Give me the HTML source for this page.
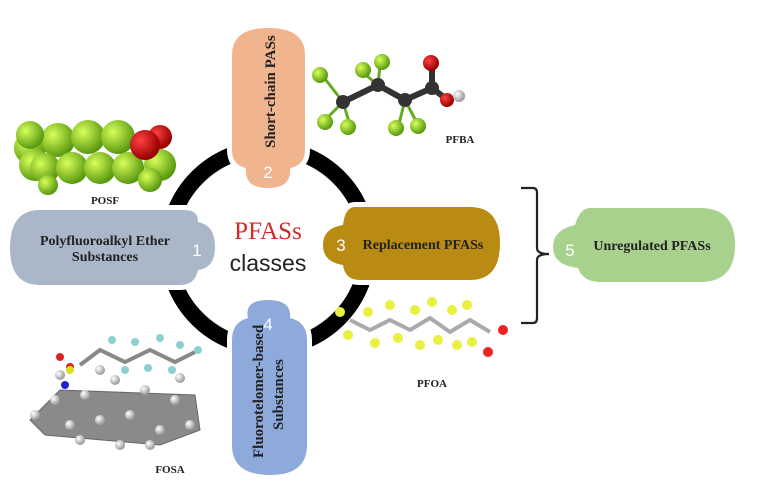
<!DOCTYPE html>
<html><head><meta charset="utf-8"><style>
html,body{margin:0;padding:0;background:#fff;}
svg{display:block;}
.s{paint-order:stroke;stroke:#fff;stroke-width:10;}
</style></head><body>
<svg width="762" height="504" viewBox="0 0 762 504" xmlns="http://www.w3.org/2000/svg" font-family="Liberation Serif, serif">
<defs>
<radialGradient id="gG" cx="35%" cy="35%" r="65%"><stop offset="0" stop-color="#d8ff5a"/><stop offset="1" stop-color="#5a9a10"/></radialGradient>
<radialGradient id="gR" cx="35%" cy="35%" r="65%"><stop offset="0" stop-color="#ff4040"/><stop offset="1" stop-color="#900"/></radialGradient>
<radialGradient id="gW" cx="35%" cy="35%" r="65%"><stop offset="0" stop-color="#fff"/><stop offset="1" stop-color="#999"/></radialGradient>
</defs>
<circle cx="268" cy="248" r="100" fill="none" stroke="#000" stroke-width="16"/>
<!-- shape 2 -->
<path class="s" d="M232,55 Q232,28 268,28 Q305,28 305,55 L305,150 Q305,165 290,168 Q292,188 268,188 Q244,188 246,168 Q232,165 232,150 Z" fill="#f0b48f"/>
<text transform="translate(275,148) rotate(-90)" font-size="15" font-weight="bold" fill="#222">Short-chain PASs</text>
<text x="268" y="178" font-size="17" fill="#fff" text-anchor="middle" font-family="Liberation Sans, sans-serif">2</text>
<!-- shape 4 -->
<path class="s" d="M248,318 Q244,300 268,300 Q292,300 290,318 Q307,322 307,340 L307,445 Q307,475 270,475 Q232,475 232,445 L232,340 Q232,322 248,318 Z" fill="#8eaadb"/>
<text x="268" y="330" font-size="17" fill="#fff" text-anchor="middle" font-family="Liberation Sans, sans-serif">4</text>
<text transform="translate(263,458) rotate(-90)" font-size="15" font-weight="bold" fill="#222">Fluorotelomer-based</text>
<text transform="translate(283,430) rotate(-90)" font-size="15" font-weight="bold" fill="#222">Substances</text>
<!-- shape 1 -->
<path class="s" d="M40,210 L185,210 Q198,210 198,222 Q215,225 215,247 Q215,268 198,270 Q195,285 180,285 L40,285 Q10,285 10,248 Q10,210 40,210 Z" fill="#a9b7c9"/>
<text x="105" y="245" font-size="14" font-weight="bold" fill="#222" text-anchor="middle">Polyfluoroalkyl Ether</text>
<text x="105" y="261" font-size="14" font-weight="bold" fill="#222" text-anchor="middle">Substances</text>
<text x="197" y="256" font-size="17" fill="#fff" text-anchor="middle" font-family="Liberation Sans, sans-serif">1</text>
<!-- shape 3 -->
<path class="s" d="M355,207 L470,207 Q500,207 500,243 Q500,280 470,280 L360,280 Q345,280 343,265 Q323,262 323,245 Q323,228 343,225 Q345,207 355,207 Z" fill="#b98b12"/>
<text x="341" y="251" font-size="17" fill="#fff" text-anchor="middle" font-family="Liberation Sans, sans-serif">3</text>
<text x="423" y="249" font-size="14" font-weight="bold" fill="#222" text-anchor="middle">Replacement PFASs</text>
<!-- center text -->
<text x="268" y="239" font-size="25" fill="#d42a2a" text-anchor="middle">PFASs</text>
<text x="268" y="271" font-size="23" fill="#222" text-anchor="middle" font-family="Liberation Sans, sans-serif">classes</text>
<!-- bracket -->
<path d="M521,188 L533,188 Q537,188 537,193 L537,248 Q537,254 549,254 Q537,254 537,260 L537,318 Q537,323 533,323 L521,323" fill="none" stroke="#222" stroke-width="2.2"/>
<!-- shape 5 -->
<path d="M590,208 L700,208 Q735,208 735,245 Q735,282 700,282 L600,282 Q583,282 578,268 Q553,265 553,247 Q553,230 575,225 Q580,208 590,208 Z" fill="#a9d18e"/>
<text x="570" y="256" font-size="17" fill="#fff" text-anchor="middle" font-family="Liberation Sans, sans-serif">5</text>
<text x="652" y="250" font-size="14" font-weight="bold" fill="#222" text-anchor="middle">Unregulated PFASs</text>
<!-- POSF -->
<g>
<circle cx="30" cy="148" r="16" fill="url(#gG)"/><circle cx="58" cy="140" r="17" fill="url(#gG)"/><circle cx="88" cy="137" r="17" fill="url(#gG)"/><circle cx="118" cy="137" r="17" fill="url(#gG)"/><circle cx="30" cy="135" r="14" fill="url(#gG)"/>
<circle cx="35" cy="165" r="16" fill="url(#gG)"/><circle cx="45" cy="168" r="15" fill="url(#gG)"/><circle cx="72" cy="168" r="16" fill="url(#gG)"/><circle cx="100" cy="168" r="16" fill="url(#gG)"/><circle cx="128" cy="168" r="16" fill="url(#gG)"/><circle cx="160" cy="165" r="16" fill="url(#gG)"/>
<circle cx="48" cy="185" r="10" fill="url(#gG)"/><circle cx="150" cy="180" r="12" fill="url(#gG)"/>
<circle cx="160" cy="137" r="12" fill="url(#gR)"/><circle cx="145" cy="145" r="15" fill="url(#gR)"/>
</g>
<text x="105" y="204" font-size="11" font-weight="bold" fill="#222" text-anchor="middle">POSF</text>
<!-- PFBA -->
<g stroke="#333" stroke-width="6" fill="none"><path d="M343,102 L378,85 L405,100 L432,88 L445,98"/><path d="M432,88 L432,65"/></g>
<g stroke="#6a2" stroke-width="3"><path d="M343,102 L322,75 M343,102 L325,120 M343,102 L350,125 M378,85 L380,65 M378,85 L362,72 M405,100 L398,128 M405,100 L418,125"/></g>
<circle cx="343" cy="102" r="7" fill="#333"/><circle cx="378" cy="85" r="7" fill="#333"/><circle cx="405" cy="100" r="7" fill="#333"/><circle cx="432" cy="88" r="7" fill="#333"/>
<g fill="url(#gG)"><circle cx="320" cy="75" r="8"/><circle cx="325" cy="122" r="8"/><circle cx="348" cy="127" r="8"/><circle cx="363" cy="70" r="8"/><circle cx="382" cy="62" r="8"/><circle cx="396" cy="128" r="8"/><circle cx="418" cy="126" r="8"/></g>
<circle cx="431" cy="63" r="8" fill="url(#gR)"/><circle cx="447" cy="100" r="7" fill="url(#gR)"/><circle cx="459" cy="96" r="6" fill="url(#gW)"/>
<text x="460" y="143" font-size="11" font-weight="bold" fill="#222" text-anchor="middle">PFBA</text>
<!-- PFOA -->
<path d="M350,320 L370,330 L390,320 L410,330 L430,318 L450,332 L470,320 L490,332" stroke="#aaa" stroke-width="4" fill="none"/>
<g fill="#e8f040"><circle cx="340" cy="312" r="5"/><circle cx="348" cy="335" r="5"/><circle cx="368" cy="312" r="5"/><circle cx="375" cy="343" r="5"/><circle cx="390" cy="305" r="5"/><circle cx="398" cy="338" r="5"/><circle cx="415" cy="310" r="5"/><circle cx="420" cy="345" r="5"/><circle cx="432" cy="302" r="5"/><circle cx="438" cy="340" r="5"/><circle cx="452" cy="310" r="5"/><circle cx="457" cy="345" r="5"/><circle cx="467" cy="305" r="5"/><circle cx="472" cy="342" r="5"/></g>
<circle cx="503" cy="330" r="5" fill="#e22"/><circle cx="488" cy="352" r="5" fill="#e22"/>
<text x="432" y="387" font-size="11" font-weight="bold" fill="#222" text-anchor="middle">PFOA</text>
<!-- FOSA -->
<path d="M30,420 L60,390 L195,395 L200,430 L160,445 L45,435 Z" fill="#8a8a8a" stroke="#666"/>
<g fill="url(#gW)"><circle cx="35" cy="415" r="5"/><circle cx="55" cy="400" r="5"/><circle cx="70" cy="425" r="5"/><circle cx="85" cy="395" r="5"/><circle cx="100" cy="420" r="5"/><circle cx="115" cy="380" r="5"/><circle cx="130" cy="415" r="5"/><circle cx="145" cy="390" r="5"/><circle cx="160" cy="430" r="5"/><circle cx="175" cy="400" r="5"/><circle cx="190" cy="425" r="5"/><circle cx="80" cy="440" r="5"/><circle cx="120" cy="445" r="5"/><circle cx="150" cy="445" r="5"/><circle cx="60" cy="375" r="5"/><circle cx="100" cy="370" r="5"/><circle cx="180" cy="378" r="5"/></g>
<path d="M80,365 L100,350 L125,362 L150,350 L175,362 L195,352" stroke="#888" stroke-width="4" fill="none"/>
<g fill="#8cd0d0"><circle cx="112" cy="340" r="4"/><circle cx="135" cy="342" r="4"/><circle cx="160" cy="338" r="4"/><circle cx="180" cy="345" r="4"/><circle cx="198" cy="350" r="4"/><circle cx="125" cy="370" r="4"/><circle cx="148" cy="368" r="4"/><circle cx="172" cy="370" r="4"/></g>
<circle cx="60" cy="357" r="4" fill="#d22"/><circle cx="70" cy="367" r="4" fill="#d22"/><circle cx="70" cy="370" r="4" fill="#dd2"/><circle cx="65" cy="385" r="4" fill="#22c"/>
<text x="170" y="473" font-size="11" font-weight="bold" fill="#222" text-anchor="middle">FOSA</text>
</svg>
</body></html>
